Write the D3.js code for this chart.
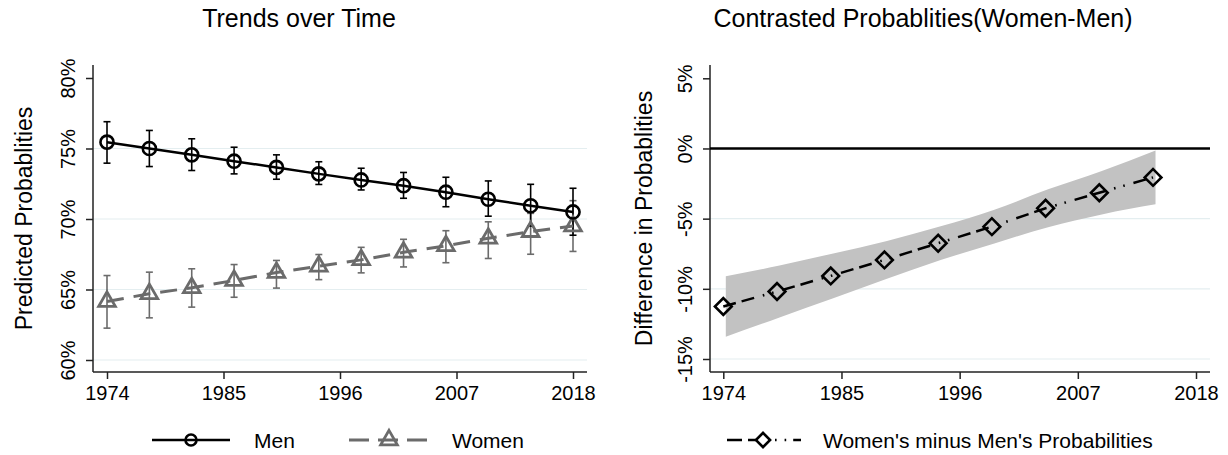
<!DOCTYPE html>
<html>
<head>
<meta charset="utf-8">
<script src="https://cdn.jsdelivr.net/npm/d3@7"></script>
<style>
  html, body { margin: 0; padding: 0; background: #fff; }
  svg { display: block; font-family: "Liberation Sans", Arial, sans-serif; }
</style>
</head>
<body>
<svg id="chart" width="1228" height="455"></svg>
<script>
// Survey years and predicted probabilities (%) with 95% confidence limits
const years      = [1974, 1978, 1982, 1986, 1990, 1994, 1998, 2002, 2006, 2010, 2014, 2018];
const menProb    = [75.45, 75.0, 74.55, 74.1, 73.66, 73.2, 72.77, 72.36, 71.9, 71.4, 70.94, 70.5];
const menLo      = [73.96, 73.72, 73.44, 73.2, 72.82, 72.45, 72.06, 71.47, 70.87, 70.2, 69.5, 68.85];
const menHi      = [76.9, 76.28, 75.69, 75.09, 74.55, 74.06, 73.6, 73.3, 72.96, 72.7, 72.46, 72.18];
const womenProb  = [64.15, 64.7, 65.12, 65.64, 66.2, 66.65, 67.1, 67.64, 68.1, 68.63, 69.1, 69.5];
const womenLo    = [62.26, 62.99, 63.75, 64.45, 65.1, 65.7, 66.18, 66.6, 66.9, 67.2, 67.5, 67.7];
const womenHi    = [65.99, 66.23, 66.47, 66.77, 67.06, 67.48, 67.99, 68.56, 69.17, 69.8, 70.4, 71.3];

// Contrast (women minus men), percentage points, with confidence band
const diffYears  = [1974, 1979, 1984, 1989, 1994, 1999, 2004, 2009, 2014];
const diffVal    = [-11.26, -10.19, -9.08, -7.94, -6.75, -5.57, -4.26, -3.15, -2.06];
const diffLo     = [-13.41, -12.04, -10.68, -9.29, -7.95, -6.77, -5.61, -4.7, -3.98];
const diffHi     = [-9.11, -8.34, -7.48, -6.59, -5.55, -4.37, -2.91, -1.6, -0.14];

// Axis ticks
const xTicks      = [1974, 1985, 1996, 2007, 2018];
const yTicksLeft  = [60, 65, 70, 75, 80];
const yTicksRight = [-15, -10, -5, 0, 5];

const svg = d3.select("#chart");
const FONT = "'Liberation Sans', Arial, sans-serif";
const AXIS_COL = "#222";
const GRID_COL = "#e4eef0";
const GRAY = "#6b6b6b";
const pct = d => d + "%";

function panel(opts) {
  const { x, y, left, right, top, bottom, yTicks, gridTicks, title, titleX, yTitle, yTitleX } = opts;
  const g = svg.append("g");

  // horizontal grid
  g.append("g").selectAll("line").data(gridTicks).join("line")
    .attr("x1", left).attr("x2", right)
    .attr("y1", d => y(d)).attr("y2", d => y(d))
    .attr("stroke", GRID_COL).attr("stroke-width", 1.2);

  // y axis
  const ya = g.append("g").attr("transform", `translate(${left},0)`)
    .call(d3.axisLeft(y).tickValues(yTicks).tickSize(7).tickSizeOuter(0).tickFormat(pct));
  ya.select(".domain").remove();
  ya.append("line").attr("x1", 0).attr("x2", 0).attr("y1", top).attr("y2", bottom)
    .attr("stroke", AXIS_COL).attr("stroke-width", 1.5);
  ya.selectAll(".tick line").attr("stroke", AXIS_COL).attr("stroke-width", 1.5);
  ya.selectAll(".tick text")
    .attr("x", null).attr("dy", null)
    .attr("transform", "translate(-18,0) rotate(-90)")
    .attr("text-anchor", "middle")
    .attr("fill", "#000")
    .style("font", `20px ${FONT}`);

  // x axis
  const xa = g.append("g").attr("transform", `translate(0,${bottom})`)
    .call(d3.axisBottom(x).tickValues(xTicks).tickSize(7).tickSizeOuter(0).tickFormat(d3.format("d")));
  xa.select(".domain").remove();
  xa.append("line").attr("x1", left).attr("x2", right).attr("y1", 0).attr("y2", 0)
    .attr("stroke", AXIS_COL).attr("stroke-width", 1.5);
  xa.selectAll(".tick line").attr("stroke", AXIS_COL).attr("stroke-width", 1.5);
  xa.selectAll(".tick text").attr("y", 28).attr("dy", null)
    .attr("fill", "#000").style("font", `20px ${FONT}`);

  // titles
  svg.append("text").attr("x", titleX).attr("y", 27).attr("text-anchor", "middle")
    .style("font", `25px ${FONT}`).text(title);
  svg.append("text")
    .attr("transform", `translate(${yTitleX},${(top + bottom) / 2}) rotate(-90)`)
    .attr("text-anchor", "middle")
    .style("font", `23px ${FONT}`).text(yTitle);
  return g;
}

// ---------- Left panel: trends over time ----------
const xL = d3.scaleLinear().domain([1974, 2018]).range([107, 573]);
const yL = d3.scaleLinear().domain([60, 80]).range([360, 78]);
const gL = panel({
  x: xL, y: yL, left: 93, right: 587, top: 65, bottom: 372,
  yTicks: yTicksLeft, gridTicks: [60, 65, 70, 75],
  title: "Trends over Time", titleX: 299,
  yTitle: "Predicted Probablities", yTitleX: 32
});

function errorBars(g, xs, lo, hi, color) {
  const eb = g.append("g").attr("stroke", color).attr("stroke-width", 1.6).attr("fill", "none");
  xs.forEach((yr, i) => {
    const cx = xL(yr);
    eb.append("line").attr("x1", cx).attr("x2", cx).attr("y1", yL(lo[i])).attr("y2", yL(hi[i]));
    eb.append("line").attr("x1", cx - 3.5).attr("x2", cx + 3.5).attr("y1", yL(lo[i])).attr("y2", yL(lo[i]));
    eb.append("line").attr("x1", cx - 3.5).attr("x2", cx + 3.5).attr("y1", yL(hi[i])).attr("y2", yL(hi[i]));
  });
}

errorBars(gL, years, womenLo, womenHi, GRAY);
errorBars(gL, years, menLo, menHi, "#000");

const lineL = d3.line().x(d => xL(d[0])).y(d => yL(d[1]));
gL.append("path").datum(years.map((yr, i) => [yr, womenProb[i]]))
  .attr("d", lineL).attr("fill", "none").attr("stroke", GRAY)
  .attr("stroke-width", 3).attr("stroke-dasharray", "17,10");
gL.append("path").datum(years.map((yr, i) => [yr, menProb[i]]))
  .attr("d", lineL).attr("fill", "none").attr("stroke", "#000").attr("stroke-width", 2.5);

const circleSym = d3.symbol().type(d3.symbolCircle).size(135);
const triSym = d3.symbol().type(d3.symbolTriangle).size(120);
const diamondSym = d3.symbol().type(d3.symbolSquare).size(140);

gL.append("g").selectAll("path").data(years).join("path")
  .attr("d", triSym)
  .attr("transform", (yr, i) => `translate(${xL(yr)},${yL(womenProb[i])})`)
  .attr("fill", "none").attr("stroke", GRAY).attr("stroke-width", 2.8);
gL.append("g").selectAll("path").data(years).join("path")
  .attr("d", circleSym)
  .attr("transform", (yr, i) => `translate(${xL(yr)},${yL(menProb[i])})`)
  .attr("fill", "none").attr("stroke", "#000").attr("stroke-width", 2.6);

// ---------- Right panel: contrast ----------
const xR = d3.scaleLinear().domain([1974, 2018]).range([723.3, 1196]);
const yR = d3.scaleLinear().domain([-15, 5]).range([359, 78.3]);
const gR = panel({
  x: xR, y: yR, left: 710, right: 1210, top: 65, bottom: 372,
  yTicks: yTicksRight, gridTicks: [-15, -10, -5],
  title: "Contrasted Probablities(Women-Men)", titleX: 923,
  yTitle: "Difference in Probablities", yTitleX: 652
});

const band = d3.area()
  .x(d => xR(d[0]) + 2.5)
  .y0(d => yR(d[1])).y1(d => yR(d[2]))
  .curve(d3.curveMonotoneX);
gR.append("path").datum(diffYears.map((yr, i) => [yr, diffLo[i], diffHi[i]]))
  .attr("d", band).attr("fill", "#c2c2c2").attr("stroke", "none");

gR.append("line").attr("x1", 710).attr("x2", 1210)
  .attr("y1", yR(0)).attr("y2", yR(0))
  .attr("stroke", "#000").attr("stroke-width", 2.5);

const lineR = d3.line().x(d => xR(d[0])).y(d => yR(d[1]));
const DIFF_DASH = "13,6,13,9,1.6,8,1.6,9";
gR.append("path").datum(diffYears.map((yr, i) => [yr, diffVal[i]]))
  .attr("d", lineR).attr("fill", "none").attr("stroke", "#000")
  .attr("stroke-width", 2.5).attr("stroke-dasharray", DIFF_DASH);

gR.append("g").selectAll("path").data(diffYears).join("path")
  .attr("d", diamondSym)
  .attr("transform", (yr, i) => `translate(${xR(yr)},${yR(diffVal[i])}) rotate(45)`)
  .attr("fill", "none").attr("stroke", "#000").attr("stroke-width", 2.6);

// ---------- Legends ----------
const LY = 440;
const leg = svg.append("g");
// Men
leg.append("line").attr("x1", 152).attr("x2", 230).attr("y1", LY).attr("y2", LY)
  .attr("stroke", "#000").attr("stroke-width", 2.5);
leg.append("path").attr("d", d3.symbol().type(d3.symbolCircle).size(95))
  .attr("transform", `translate(191,${LY})`)
  .attr("fill", "none").attr("stroke", "#000").attr("stroke-width", 2.6);
leg.append("text").attr("x", 254).attr("y", LY + 8).style("font", `21px ${FONT}`).text("Men");
// Women
leg.append("line").attr("x1", 349).attr("x2", 429).attr("y1", LY).attr("y2", LY)
  .attr("stroke", GRAY).attr("stroke-width", 3).attr("stroke-dasharray", "20,9");
leg.append("path").attr("d", triSym)
  .attr("transform", `translate(389,${LY})`)
  .attr("fill", "none").attr("stroke", GRAY).attr("stroke-width", 2.8);
leg.append("text").attr("x", 452).attr("y", LY + 8).style("font", `21px ${FONT}`).text("Women");
// Contrast
leg.append("line").attr("x1", 727).attr("x2", 801).attr("y1", LY).attr("y2", LY)
  .attr("stroke", "#000").attr("stroke-width", 2.5).attr("stroke-dasharray", "15,6,15,12,1.6,8,1.6,7,8");
leg.append("path").attr("d", d3.symbol().type(d3.symbolSquare).size(100))
  .attr("transform", `translate(763,${LY}) rotate(45)`)
  .attr("fill", "#fff").attr("stroke", "#000").attr("stroke-width", 2.6);
leg.append("text").attr("x", 823).attr("y", LY + 8).style("font", `21px ${FONT}`)
  .text("Women's minus Men's Probabilities");
</script>
</body>
</html>
